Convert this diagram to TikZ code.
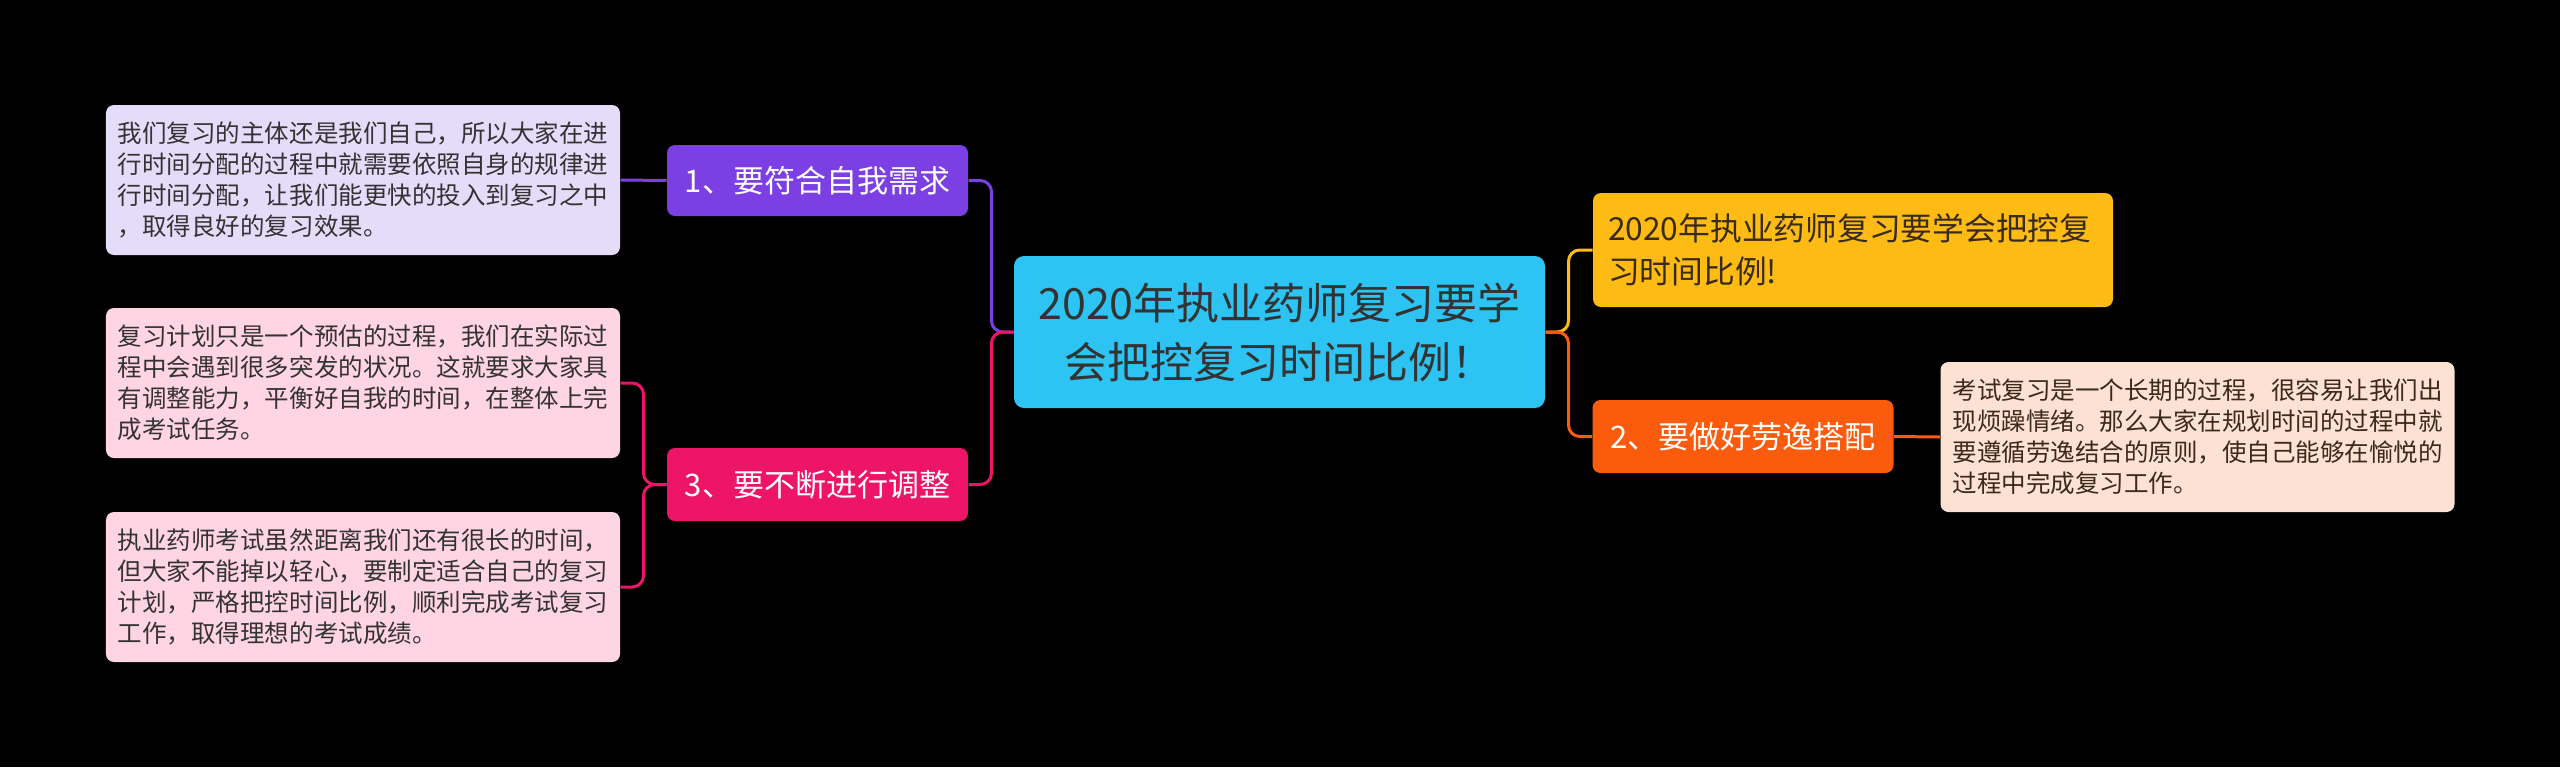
\documentclass[tikz,border=0pt]{standalone}
\usepackage{fontspec}
\setmainfont{Noto Sans CJK SC}
\definecolor{cyanbox}{HTML}{2DC3F2}
\definecolor{purp}{HTML}{7B3FE4}
\definecolor{mag}{HTML}{EE1468}
\definecolor{yel}{HTML}{FDBB13}
\definecolor{orn}{HTML}{FA5B0C}
\definecolor{lav}{HTML}{E5DCFA}
\definecolor{pinkleaf}{HTML}{FFD4E3}
\definecolor{peach}{HTML}{FDE1D3}
\definecolor{txtdark}{HTML}{333333}
\definecolor{txtbrown}{HTML}{3A2A1A}
\tikzset{
  leaf/.style={fill=#1, rounded corners=3.2pt, minimum width=205.6pt, minimum height=60pt,
    inner sep=0pt, align=left, font=\fontsize{9.8pt}{12.4pt}\selectfont, text=txtdark},
  topic/.style={fill=#1, rounded corners=3.2pt, minimum width=120.4pt, minimum height=29.2pt,
    inner sep=0pt, font=\fontsize{12.4pt}{15pt}\selectfont, text=white},
  conn/.style={draw=#1, line width=1.2pt, rounded corners=4.5pt},
}
\begin{document}
\begin{tikzpicture}[x=0.4pt,y=-0.4pt]
\useasboundingbox (0,0) rectangle (2560,767);
\fill[black] (0,0) rectangle (2560,767);

% center
\node[fill=cyanbox, rounded corners=4pt, minimum width=212.4pt, minimum height=60.8pt,
  inner sep=0pt, align=center, text=txtdark, font=\fontsize{17.2pt}{23.6pt}\selectfont]
  (c) at (1279.5,332) {2020年执业药师复习要学\\会把控复习时间比例！};

% topics
\node[topic=purp, minimum height=28.4pt] (t1) at (817.5,180.5) {1、要符合自我需求};
\node[topic=mag] (t3) at (817.5,484.5) {3、要不断进行调整};
\node[topic=orn] (t2) at (1743,436.5) {2、要做好劳逸搭配};
\node[fill=yel, rounded corners=3.2pt, minimum width=208pt, minimum height=45.6pt,
  inner xsep=6pt, inner ysep=0pt, text width=196pt, align=left, text=txtbrown,
  font=\fontsize{12.7pt}{17.2pt}\selectfont]
  (y) at (1853,250) {2020年执业药师复习要学会把控复\\习时间比例!};

% leaves
\node[leaf=lav] (l1) at (363,180) {我们复习的主体还是我们自己，所以大家在进\\行时间分配的过程中就需要依照自身的规律进\\行时间分配，让我们能更快的投入到复习之中\\，取得良好的复习效果。};
\node[leaf=pinkleaf] (l3a) at (363,383) {复习计划只是一个预估的过程，我们在实际过\\程中会遇到很多突发的状况。这就要求大家具\\有调整能力，平衡好自我的时间，在整体上完\\成考试任务。};
\node[leaf=pinkleaf] (l3b) at (363,587) {执业药师考试虽然距离我们还有很长的时间，\\但大家不能掉以轻心，要制定适合自己的复习\\计划，严格把控时间比例，顺利完成考试复习\\工作，取得理想的考试成绩。};
\node[leaf=peach, text=txtbrown] (l2) at (2197.5,437) {考试复习是一个长期的过程，很容易让我们出\\现烦躁情绪。那么大家在规划时间的过程中就\\要遵循劳逸结合的原则，使自己能够在愉悦的\\过程中完成复习工作。};

% connectors
\draw[conn=purp] (c.west) -- ++(-22,0) |- (t1.east);
\draw[conn=mag] (c.west) -- ++(-22,0) |- (t3.east);
\draw[conn=yel] (c.east) -- ++(23,0) |- (y.west);
\draw[conn=orn] (c.east) -- ++(23,0) |- (t2.west);
\draw[conn=purp] (t1.west) -- (l1.east);
\draw[conn=orn] (t2.east) -- (l2.west);
\draw[conn=mag] (t3.west) -- ++(-23,0) |- (l3a.east);
\draw[conn=mag] (t3.west) -- ++(-23,0) |- (l3b.east);
\end{tikzpicture}
\end{document}
